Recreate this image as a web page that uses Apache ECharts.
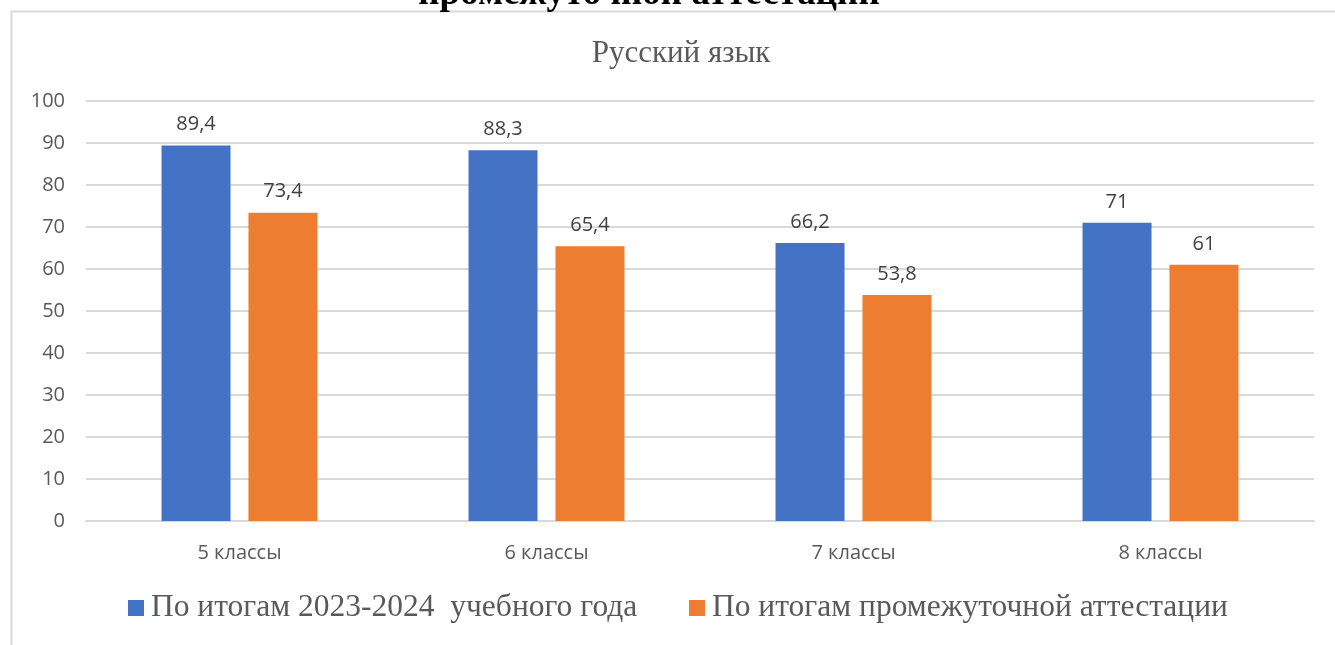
<!DOCTYPE html>
<html><head><meta charset="utf-8">
<script src="https://cdn.jsdelivr.net/npm/echarts@6/dist/echarts.min.js"></script>
<style>html,body{margin:0;padding:0;background:#fff}#c{width:1335px;height:645px}</style>
</head><body><div id="c"></div>
<script>
const categories = ['5 классы', '6 классы', '7 классы', '8 классы'];
const seriesNames = ['По итогам 2023-2024  учебного года', 'По итогам промежуточной аттестации'];
const yearValues = [89.4, 88.3, 66.2, 71];
const interimValues = [73.4, 65.4, 53.8, 61];
const chartTitle = 'Русский язык';
const docHeading = 'промежуточной аттестации';

const chart = echarts.init(document.getElementById('c'));
const fmt = p => String(p.value).replace('.', ',');
const labelStyle = { show: true, position: 'top', distance: 11, formatter: fmt, color: '#404040', fontSize: 20, fontFamily: 'Open Sans, Liberation Sans, sans-serif' };
const legendBase = {
  bottom: 21, padding: 0, itemWidth: 16, itemHeight: 16, icon: 'rect',
  textStyle: { fontFamily: 'Liberation Serif, serif', fontSize: 31.5, color: '#595959', padding: [0,0,0,2] }
};
chart.setOption({
  animation: false,
  graphic: [
    { type: 'rect', shape: { x: 11.5, y: 11.5, width: 1400, height: 700 }, style: { fill: 'none', stroke: '#d9d9d9', lineWidth: 2 }, z: -1 },
    { type: 'text', x: 649, y: -24, style: { text: docHeading, textAlign: 'center', font: 'bold 37px "Liberation Serif", serif', fill: '#000' } }
  ],
  title: { text: chartTitle, left: 676, textAlign: 'center', top: 33, textStyle: { fontFamily: 'Liberation Serif, serif', fontWeight: 'normal', fontSize: 31, color: '#595959' } },
  grid: { left: 86, right: 21, top: 101, bottom: 124, containLabel: false },
  legend: [
    Object.assign({}, legendBase, { left: 128, data: [seriesNames[0]] }),
    Object.assign({}, legendBase, { left: 689, data: [seriesNames[1]] })
  ],
  xAxis: {
    type: 'category', data: categories,
    axisLine: { lineStyle: { color: '#d9d9d9', width: 2 } }, axisTick: { show: false },
    axisLabel: { color: '#595959', fontSize: 20, margin: 22, fontFamily: 'Open Sans, Liberation Sans, sans-serif' }
  },
  yAxis: {
    type: 'value', min: 0, max: 100, interval: 10,
    axisLine: { show: false }, axisTick: { show: false },
    splitLine: { lineStyle: { color: '#d9d9d9', width: 2 } },
    axisLabel: { color: '#595959', fontSize: 20, margin: 21, fontFamily: 'Open Sans, Liberation Sans, sans-serif' }
  },
  series: [
    { name: seriesNames[0], type: 'bar', data: yearValues, barWidth: 69, barGap: '26%', itemStyle: { color: '#4472c4' }, label: labelStyle },
    { name: seriesNames[1], type: 'bar', data: interimValues, barWidth: 69, itemStyle: { color: '#ed7d31' }, label: labelStyle }
  ]
});
</script></body></html>
